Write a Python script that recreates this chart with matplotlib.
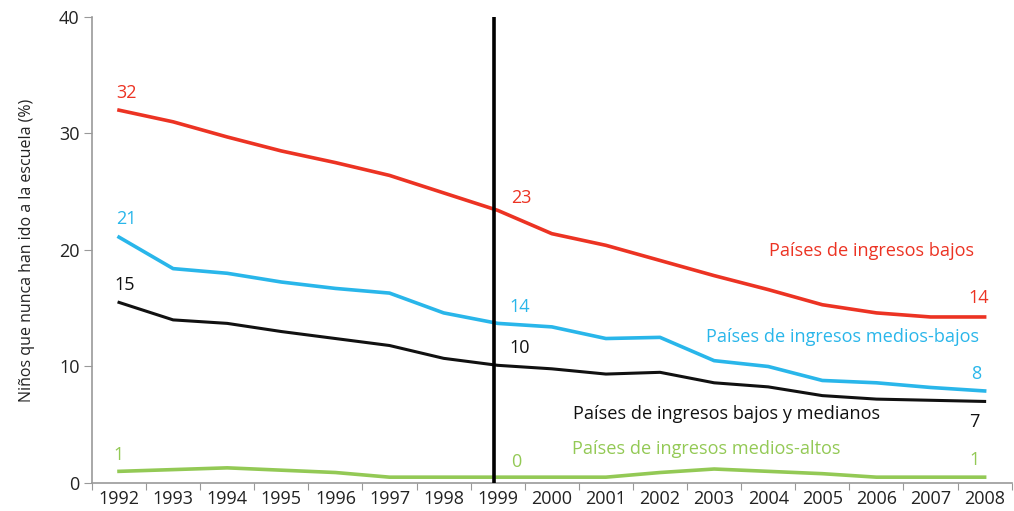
import matplotlib
matplotlib.use("Agg")
import matplotlib.pyplot as plt

years = list(range(1992, 2009))
bajos = [32.0, 31.0, 29.7, 28.5, 27.5, 26.4, 24.9, 23.4, 21.4, 20.4, 19.1, 17.8, 16.6, 15.3, 14.6, 14.25, 14.25]
medios_bajos = [21.1, 18.4, 18.0, 17.25, 16.7, 16.3, 14.6, 13.7, 13.4, 12.4, 12.5, 10.5, 10.0, 8.8, 8.6, 8.2, 7.9]
bajos_medianos = [15.5, 14.0, 13.7, 13.0, 12.4, 11.8, 10.7, 10.1, 9.8, 9.35, 9.5, 8.6, 8.25, 7.5, 7.2, 7.1, 7.0]
medios_altos = [1.0, 1.15, 1.3, 1.1, 0.9, 0.5, 0.5, 0.5, 0.5, 0.5, 0.9, 1.2, 1.0, 0.8, 0.5, 0.5, 0.5]

RED = "#ec3323"
BLUE = "#29b6ea"
BLACK = "#111111"
GREEN = "#93c955"

plt.rcParams["font.family"] = ["Open Sans", "DejaVu Sans"]

fig = plt.figure(figsize=(10.14, 5.11), dpi=100)
ax = fig.add_axes([0.0907, 0.0548, 0.907, 0.912])

ax.plot(years, bajos, color=RED, lw=2.6)
ax.plot(years, medios_bajos, color=BLUE, lw=2.6)
ax.plot(years, bajos_medianos, color=BLACK, lw=2.2)
ax.plot(years, medios_altos, color=GREEN, lw=2.6)

# 1999 marker line
ax.plot([1998.93, 1998.93], [0, 40], color="black", lw=2.6, zorder=5)

ax.set_xlim(1991.5, 2008.5)
ax.set_ylim(0, 40)
ax.set_yticks([0, 10, 20, 30, 40])
ax.set_xticks([y - 0.5 for y in years] + [2008.5])
ax.set_xticklabels([])
ax.set_xticks(years, minor=True)
ax.set_xticklabels([str(y) for y in years], minor=True)
ax.tick_params(axis="x", which="minor", length=0, labelsize=13, pad=5, colors="#222222")
ax.tick_params(axis="x", which="major", length=5, color="#999999")
ax.tick_params(axis="y", length=6, color="#999999", labelsize=13, labelcolor="#222222", pad=3)
for s in ["top", "right"]:
    ax.spines[s].set_visible(False)
for s in ["left", "bottom"]:
    ax.spines[s].set_color("#999999")
    ax.spines[s].set_linewidth(1.2)

ax.set_ylabel("Niños que nunca han ido a la escuela (%)", fontsize=11.5, color="#222222", labelpad=17)

fs = 13
# value labels
vals = [
    (1992.13, 33.5, "32", RED),
    (1992.13, 22.7, "21", BLUE),
    (1992.1, 17.0, "15", BLACK),
    (1992.0, 2.4, "1", GREEN),
    (1999.43, 24.5, "23", RED),
    (1999.4, 15.1, "14", BLUE),
    (1999.4, 11.6, "10", BLACK),
    (1999.35, 1.8, "0", GREEN),
    (2007.89, 15.9, "14", RED),
    (2007.85, 9.35, "8", BLUE),
    (2007.81, 5.2, "7", BLACK),
    (2007.81, 2.0, "1", GREEN),
]
for x, y, t, c in vals:
    ax.text(x, y, t, color=c, fontsize=fs, ha="center", va="center")

# series labels
sfs = 13.1
ax.text(2007.8, 19.9, "Países de ingresos bajos", color=RED, fontsize=sfs, ha="right", va="center")
ax.text(2007.9, 12.5, "Países de ingresos medios-bajos", color=BLUE, fontsize=sfs, ha="right", va="center")
ax.text(2000.4, 5.9, "Países de ingresos bajos y medianos", color=BLACK, fontsize=sfs, ha="left", va="center")
ax.text(2000.37, 2.9, "Países de ingresos medios-altos", color=GREEN, fontsize=sfs, ha="left", va="center")

fig.savefig("out.png", dpi=100)
